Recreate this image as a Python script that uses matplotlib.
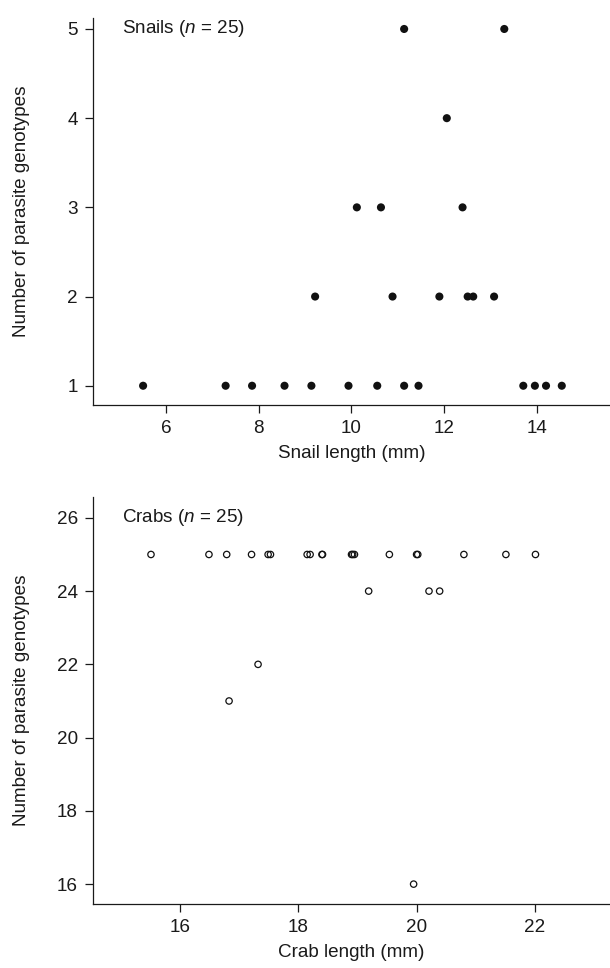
#!/usr/bin/env python3
# -*- coding: utf-8 -*-

"""
Parasite genotypes vs host length: snails (top) and crabs (bottom)
"""

import matplotlib
matplotlib.use('Agg')
import matplotlib.pyplot as plt

# Snails: length (mm) and number of parasite genotypes
snail_length = [5.51, 7.29, 7.86, 8.56, 9.14, 9.94, 10.56, 11.14, 11.45,
                13.71, 13.96, 14.20, 14.54,
                9.22, 10.89, 11.90, 12.51, 12.63, 13.08,
                10.12, 10.64, 12.40,
                12.06,
                11.14, 13.30]
snail_genotypes = [1, 1, 1, 1, 1, 1, 1, 1, 1, 1, 1, 1, 1,
                   2, 2, 2, 2, 2, 2,
                   3, 3, 3,
                   4,
                   5, 5]

# Crabs: length (mm) and number of parasite genotypes
crab_length = [15.51, 16.49, 16.79, 17.21, 17.49, 17.53, 18.15, 18.20,
               18.40, 18.41, 18.90, 18.92, 18.95, 19.54, 20.00, 20.02,
               20.80, 21.51, 22.01,
               19.19, 20.21, 20.39,
               17.32,
               16.83,
               19.95]
crab_genotypes = [25] * 19 + [24, 24, 24, 22, 21, 16]

snail_xticks = [6, 8, 10, 12, 14]
snail_yticks = [1, 2, 3, 4, 5]
crab_xticks = [16, 18, 20, 22]
crab_yticks = [16, 18, 20, 22, 24, 26]

FS = 13.6  # 全图字号

plt.rcParams['font.family'] = ['Liberation Sans', 'DejaVu Sans']
plt.rcParams['mathtext.fontset'] = 'custom'
plt.rcParams['mathtext.rm'] = 'Liberation Sans'
plt.rcParams['mathtext.it'] = 'Liberation Sans:italic'
plt.rcParams['font.size'] = FS
plt.rcParams['text.color'] = '#1a1a1a'
plt.rcParams['axes.labelcolor'] = '#1a1a1a'


def style_axes(ax):
    """只保留左、下坐标轴"""
    for side in ('top', 'right'):
        ax.spines[side].set_visible(False)
    for side in ('left', 'bottom'):
        ax.spines[side].set_linewidth(0.9)
        ax.spines[side].set_color('#1a1a1a')
    ax.tick_params(direction='out', length=5.8, width=0.9, pad=5.0,
                   labelsize=FS, colors='#1a1a1a')
    # y 轴标题离刻度较远，固定位置
    ax.yaxis.set_label_coords(-0.122, 0.5)


fig = plt.figure(figsize=(6.1, 9.68), dpi=100)

# top panel: snails
ax1 = fig.add_axes([0.1525, 0.5816, 0.8475, 0.3998])
ax1.scatter(snail_length, snail_genotypes, s=34, color='#111111',
            edgecolors='none', zorder=3)
ax1.set_xlim(4.43, 15.58)
ax1.set_ylim(0.784, 5.123)
ax1.set_xticks(snail_xticks)
ax1.set_yticks(snail_yticks)
ax1.set_xlabel('Snail length (mm)', fontsize=FS, labelpad=6)
ax1.set_ylabel('Number of parasite genotypes', fontsize=FS)
ax1.text(0.0555, 5, 'Snails ($n$ = 25)', transform=ax1.get_yaxis_transform(),
         ha='left', va='center', fontsize=FS)
style_axes(ax1)

# bottom panel: crabs
ax2 = fig.add_axes([0.1525, 0.0666, 0.8475, 0.42])
ax2.scatter(crab_length, crab_genotypes, s=21, facecolors='none',
            edgecolors='#111111', linewidths=0.9, zorder=3)
ax2.set_xlim(14.53, 23.27)
ax2.set_ylim(15.47, 26.57)
ax2.set_xticks(crab_xticks)
ax2.set_yticks(crab_yticks)
ax2.set_xlabel('Crab length (mm)', fontsize=FS, labelpad=6)
ax2.set_ylabel('Number of parasite genotypes', fontsize=FS)
ax2.text(0.0555, 26, 'Crabs ($n$ = 25)', transform=ax2.get_yaxis_transform(),
         ha='left', va='center', fontsize=FS)
style_axes(ax2)

fig.savefig('out.png', dpi=100)
plt.close(fig)
